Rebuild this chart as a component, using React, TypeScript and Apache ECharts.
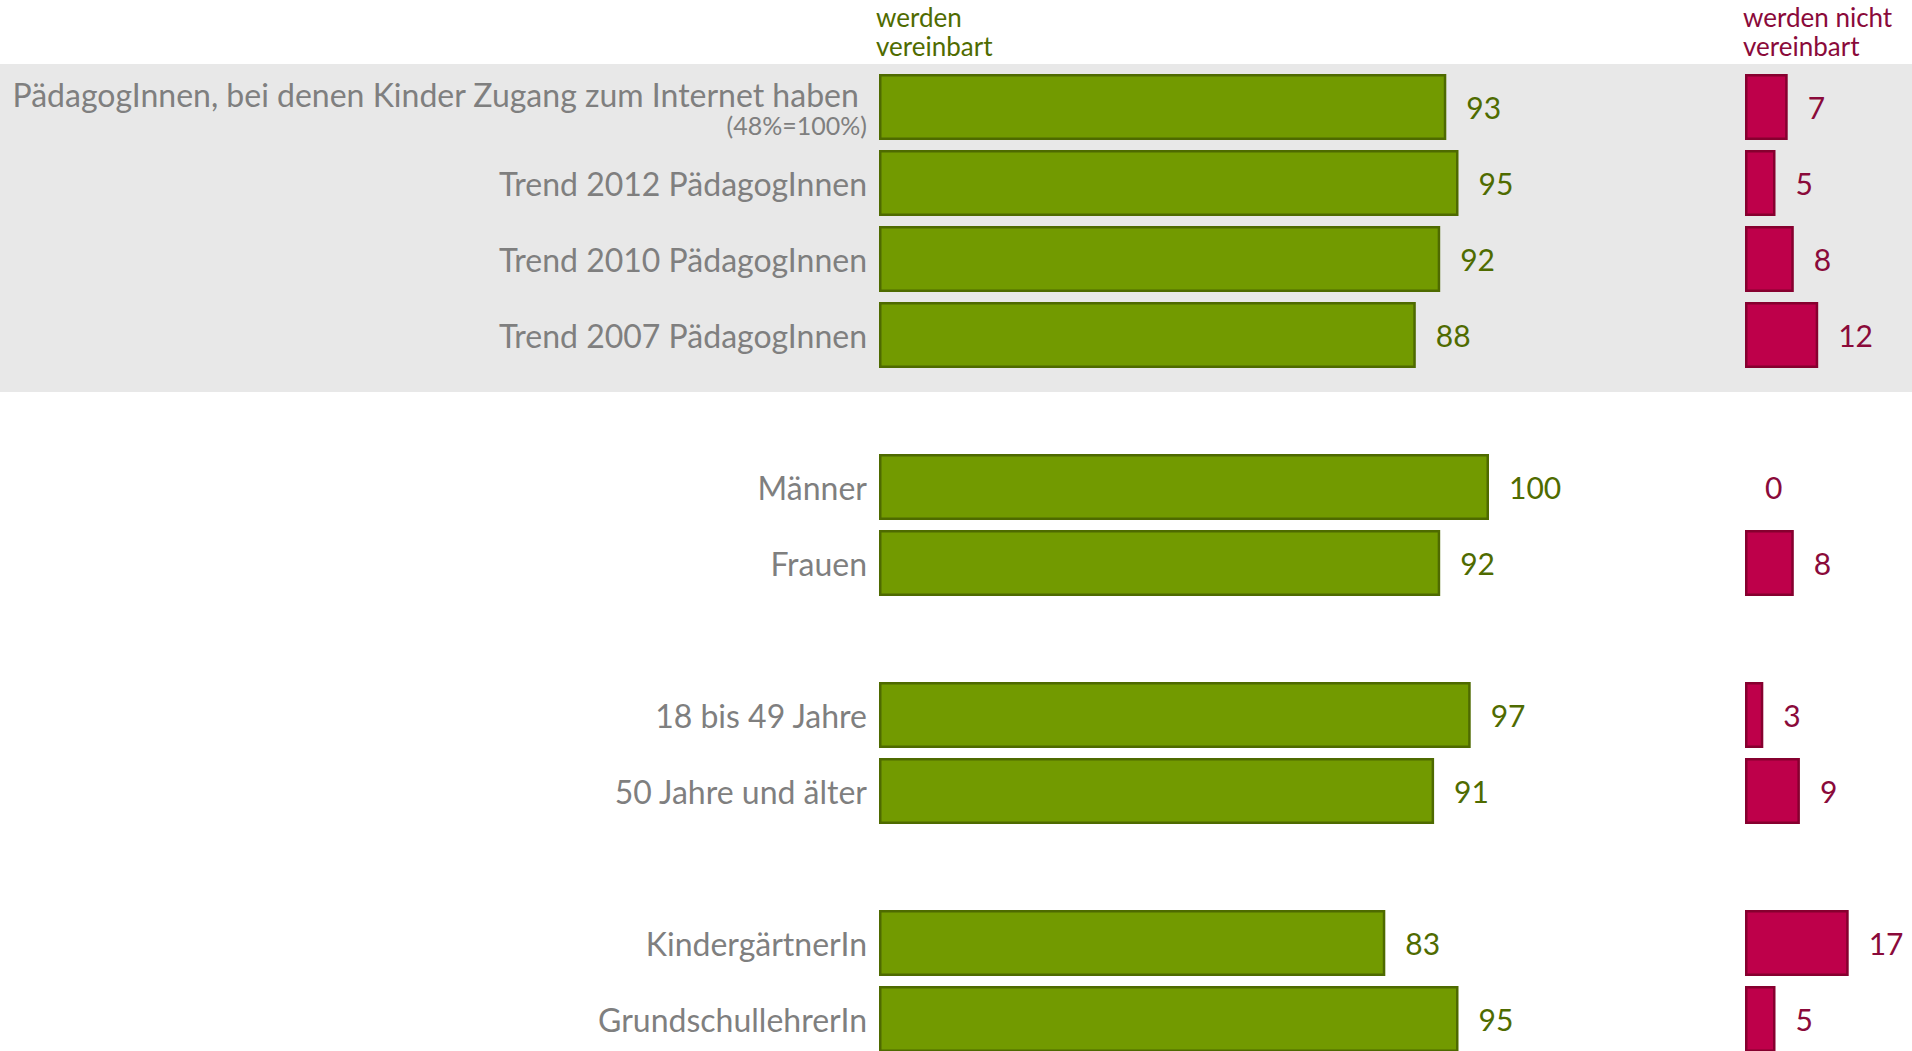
import React, { useEffect, useRef } from "react";
import * as echarts from "echarts";

const categories = [
  "PädagogInnen, bei denen Kinder Zugang zum Internet haben",
  "Trend 2012 PädagogInnen",
  "Trend 2010 PädagogInnen",
  "Trend 2007 PädagogInnen",
  "gap1",
  "Männer",
  "Frauen",
  "gap2",
  "18 bis 49 Jahre",
  "50 Jahre und älter",
  "gap3",
  "KindergärtnerIn",
  "GrundschullehrerIn",
];
const firstSubtitle = "(48%=100%)";
const vereinbart: (number | string)[] = [93, 95, 92, 88, "-", 100, 92, "-", 97, 91, "-", 83, 95];
const nichtVereinbart: (number | string)[] = [7, 5, 8, 12, "-", 0, 8, "-", 3, 9, "-", 17, 5];
const headerGreen = ["werden", "vereinbart"];
const headerRed = ["werden nicht", "vereinbart"];

const FONT = "Lato";
const GREEN = "#729a00";
const GREEN_DARK = "#4e6a00";
const GREEN_TEXT = "#4f6b00";
const RED = "#be004a";
const RED_DARK = "#86002f";
const RED_TEXT = "#8a0a3a";
const GRAY = "#7f7f7f";

export default function App() {
  const ref = useRef<HTMLDivElement>(null);
  useEffect(() => {
    if (!ref.current) return;
    const chart = echarts.init(ref.current, null, { renderer: "svg" });
    const gridTop = 69;
    const gridHeight = 988;
    const headerText = (lines: string[], x: number, color: string) =>
      lines.map((t, i) => ({
        type: "text",
        x,
        y: 4 + i * 29,
        style: { text: t, fill: color, font: `26px ${FONT}` },
      }));
    chart.setOption({
      animation: false,
      backgroundColor: "#ffffff",
      textStyle: { fontFamily: FONT },
      graphic: [
        {
          type: "rect",
          z: -10,
          silent: true,
          shape: { x: 0, y: 64, width: 1912, height: 328 },
          style: { fill: "#e8e8e8" },
        },
        ...headerText(headerGreen, 876, GREEN_TEXT),
        ...headerText(headerRed, 1743, RED_TEXT),
      ],
      grid: [
        { left: 879, top: gridTop, width: 610, height: gridHeight, containLabel: false },
        { left: 1745, top: gridTop, width: 122, height: gridHeight, containLabel: false },
      ],
      xAxis: [
        { type: "value", gridIndex: 0, min: 0, max: 100, show: false },
        { type: "value", gridIndex: 1, min: 0, max: 20, show: false },
      ],
      yAxis: [
        {
          type: "category",
          gridIndex: 0,
          data: categories,
          inverse: true,
          axisLine: { show: false },
          axisTick: { show: false },
          splitLine: { show: false },
          axisLabel: {
            margin: 12,
            color: GRAY,
            fontFamily: FONT,
            fontSize: 32,
            lineHeight: 38,
            formatter: (v: string) => {
              if (v.startsWith("gap")) return "";
              if (v === categories[0]) return `{a|${v} }\n{b|${firstSubtitle}}`;
              return v;
            },
            rich: {
              a: { fontSize: 32, lineHeight: 36, color: GRAY, fontFamily: FONT },
              b: { fontSize: 25, lineHeight: 26, color: GRAY, fontFamily: FONT },
            },
          },
        },
        {
          type: "category",
          gridIndex: 1,
          data: categories,
          inverse: true,
          show: false,
        },
      ],
      series: [
        {
          type: "bar",
          xAxisIndex: 0,
          yAxisIndex: 0,
          data: vereinbart,
          barWidth: 66,
          itemStyle: { color: GREEN, borderColor: GREEN_DARK, borderWidth: 2.5 },
          label: {
            show: true,
            position: "right",
            distance: 20,
            color: GREEN_TEXT,
            fontFamily: FONT,
            fontSize: 30,
          },
        },
        {
          type: "bar",
          xAxisIndex: 1,
          yAxisIndex: 1,
          data: nichtVereinbart.map((v) =>
            v === 0 ? { value: 0, itemStyle: { borderWidth: 0 } } : v
          ),
          barWidth: 66,
          itemStyle: { color: RED, borderColor: RED_DARK, borderWidth: 2.5 },
          label: {
            show: true,
            position: "right",
            distance: 20,
            color: RED_TEXT,
            fontFamily: FONT,
            fontSize: 30,
          },
        },
      ],
    });
    return () => chart.dispose();
  }, []);
  return (
    <div
      style={{
        position: "fixed",
        left: 0,
        top: 0,
        width: 1912,
        height: 1051,
        overflow: "hidden",
      }}
    >
      <div ref={ref} style={{ width: 1912, height: 1070 }} />
    </div>
  );
}
